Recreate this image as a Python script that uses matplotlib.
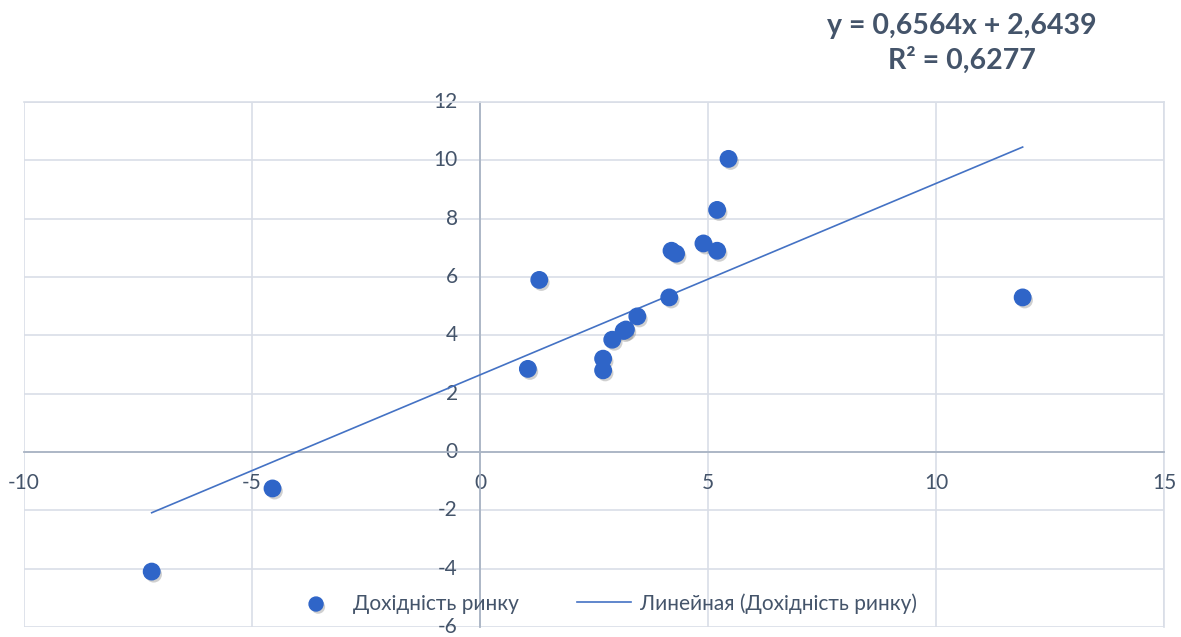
import numpy as np
import matplotlib.pyplot as plt
import matplotlib.patheffects as pe

# market return vs. asset return
market_x = [-7.2, -4.55, 1.05, 1.3, 2.7, 2.7, 2.9, 3.15, 3.2, 3.45, 4.15,
            4.2, 4.3, 4.9, 5.2, 5.2, 5.45, 11.9]
market_y = [-4.1, -1.25, 2.85, 5.9, 2.8, 3.2, 3.85, 4.15, 4.2, 4.65, 5.3,
            6.9, 6.8, 7.15, 6.9, 8.3, 10.05, 5.3]

slope = 0.6564
intercept = 2.6439
r2 = 0.6277

x_ticks = [-10, -5, 0, 5, 10, 15]
y_ticks = [-6, -4, -2, 0, 2, 4, 6, 8, 10, 12]

text_color = "#44546A"
grid_color = "#D9DEE7"
axis_color = "#A9B4C4"
point_color = "#2F65C8"
line_color = "#4472C4"

plt.rcParams["font.family"] = ["Lato", "DejaVu Sans"]
plt.rcParams["axes.unicode_minus"] = False

fig = plt.figure(figsize=(11.81, 6.37), dpi=100)
ax = fig.add_axes([24 / 1181, (637 - 627) / 637, 1140 / 1181, 525 / 637])

ax.set_xlim(-10, 15)
ax.set_ylim(-6, 12)
ax.set_xticks(x_ticks)
ax.set_yticks(y_ticks)

ax.grid(True, color=grid_color, linewidth=1.2)
ax.set_axisbelow(True)

for side in ["top", "right"]:
    ax.spines[side].set_color(grid_color)
    ax.spines[side].set_linewidth(1.2)
for side in ["left", "bottom"]:
    ax.spines[side].set_position("zero")
    ax.spines[side].set_color(axis_color)
    ax.spines[side].set_linewidth(1.3)

ax.tick_params(length=0, labelsize=15, labelcolor=text_color)
ax.tick_params(axis="x", pad=15)
ax.tick_params(axis="y", pad=16)
for lbl in ax.get_yticklabels():
    lbl.set_verticalalignment("center")

# trendline over the data range
xs = np.array([min(market_x), max(market_x)])
ax.plot(xs, slope * xs + intercept, color=line_color, linewidth=1.2,
        label="Линейная (Дохідність ринку)", zorder=3)

ax.scatter(market_x, market_y, s=140, color=point_color, zorder=4,
           label="Дохідність ринку",
           path_effects=[pe.SimplePatchShadow(offset=(1.5, -2), shadow_rgbFace="#666666", alpha=0.3),
                         pe.Normal()])

handles, labels = ax.get_legend_handles_labels()
ax.legend(handles[::-1], labels[::-1], loc="lower center", bbox_to_anchor=(0.508, -0.01),
          ncol=2, frameon=False, fontsize=15, labelcolor=text_color,
          handlelength=2.6, handletextpad=0.45, columnspacing=2.8, markerscale=0.85)

fig.text(962 / 1181, 1 - 26 / 637, f"y = {slope:.4f}x + {intercept:.4f}".replace(".", ","),
         ha="center", va="center", fontsize=20.5, fontweight="bold", color=text_color)
fig.text(962 / 1181, 1 - 60 / 637, f"R² = {r2:.4f}".replace(".", ","),
         ha="center", va="center", fontsize=20.5, fontweight="bold", color=text_color)

fig.savefig("out.png", dpi=100)
